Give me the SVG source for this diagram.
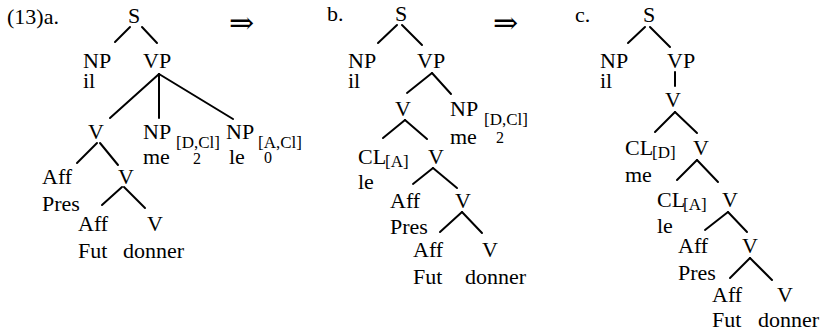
<svg xmlns="http://www.w3.org/2000/svg" width="820" height="334" viewBox="0 0 820 334">
<style>
text{font-family:"Liberation Serif","Times New Roman",serif;font-size:22px;fill:#000}
.sub{font-size:17px}
.dig{font-size:16px}
.arr{font-family:"DejaVu Serif","DejaVu Sans",serif;font-size:30px}
line{stroke:#000;stroke-width:2;stroke-linecap:round}
</style>
<rect width="820" height="334" fill="#fff"/>
<g id="connectors">
<line x1="115" y1="42" x2="130" y2="27"/><line x1="142" y1="27" x2="157" y2="43"/>
<line x1="159" y1="74" x2="110" y2="118"/><line x1="159" y1="74" x2="159" y2="118"/><line x1="159" y1="74" x2="233" y2="119"/>
<line x1="97" y1="143" x2="77" y2="163"/><line x1="100" y1="143" x2="118" y2="165"/>
<line x1="122" y1="187" x2="102" y2="205"/><line x1="124" y1="187" x2="145" y2="208"/>
<line x1="378" y1="43" x2="397" y2="25"/><line x1="402" y1="25" x2="422" y2="45"/>
<line x1="432" y1="73" x2="407" y2="93"/><line x1="432" y1="73" x2="451" y2="94"/>
<line x1="405" y1="120" x2="383" y2="138"/><line x1="405" y1="120" x2="427" y2="139"/>
<line x1="433" y1="168" x2="413" y2="184"/><line x1="433" y1="168" x2="457" y2="188"/>
<line x1="462" y1="212" x2="440" y2="232"/><line x1="462" y1="212" x2="482" y2="233"/>
<line x1="628" y1="43" x2="645" y2="27"/><line x1="650" y1="27" x2="670" y2="47"/>
<line x1="675" y1="72" x2="675" y2="86"/>
<line x1="675" y1="112" x2="655" y2="132"/><line x1="675" y1="112" x2="697" y2="133"/>
<line x1="697" y1="160" x2="677" y2="180"/><line x1="697" y1="160" x2="718" y2="182"/>
<line x1="728" y1="212" x2="705" y2="230"/><line x1="728" y1="212" x2="747" y2="232"/>
<line x1="750" y1="258" x2="730" y2="278"/><line x1="750" y1="258" x2="772" y2="280"/>
</g>
<g id="labels">
<text x="7" y="24">(13)a.</text>
<text class="arr" x="229" y="33">⇒</text>
<text x="327" y="21">b.</text>
<text class="arr" x="493" y="33">⇒</text>
<text x="575" y="22">c.</text>
</g>
<g id="a-S"><text x="128" y="23">S</text></g>
<g id="a-NP"><text x="83" y="68">NP</text><text x="83" y="88">il</text></g>
<g id="a-VP"><text x="143" y="68">VP</text></g>
<g id="a-V1"><text x="88" y="139">V</text></g>
<g id="a-NPD"><text x="143" y="139">NP</text><text class="sub" x="176" y="148">[D,Cl]</text><text x="143" y="164">me</text><text class="dig" x="193" y="164">2</text></g>
<g id="a-NPA"><text x="226" y="139">NP</text><text class="sub" x="258" y="148">[A,Cl]</text><text x="229" y="164">le</text><text class="dig" x="264" y="163">0</text></g>
<g id="a-Aff1"><text x="42" y="184">Aff</text><text x="42" y="211">Pres</text></g>
<g id="a-V2"><text x="118" y="184">V</text></g>
<g id="a-Aff2"><text x="78" y="231">Aff</text><text x="78" y="258">Fut</text></g>
<g id="a-V3"><text x="147" y="231">V</text><text x="123" y="258">donner</text></g>
<g id="b-S"><text x="395" y="21">S</text></g>
<g id="b-NP"><text x="348" y="68">NP</text><text x="348" y="88">il</text></g>
<g id="b-VP"><text x="417" y="68">VP</text></g>
<g id="b-V1"><text x="395" y="116">V</text></g>
<g id="b-NPD"><text x="450" y="116">NP</text><text class="sub" x="484" y="125">[D,Cl]</text><text x="450" y="144">me</text><text class="dig" x="496" y="143">2</text></g>
<g id="b-CLA"><text x="358" y="164">CL</text><text class="sub" x="385" y="167">[A]</text><text x="358" y="189">le</text></g>
<g id="b-V2"><text x="428" y="164">V</text></g>
<g id="b-Aff1"><text x="390" y="208">Aff</text><text x="390" y="234">Pres</text></g>
<g id="b-V3"><text x="455" y="208">V</text></g>
<g id="b-Aff2"><text x="413" y="257">Aff</text><text x="413" y="284">Fut</text></g>
<g id="b-V4"><text x="482" y="257">V</text><text x="465" y="284">donner</text></g>
<g id="c-S"><text x="643" y="22">S</text></g>
<g id="c-NP"><text x="600" y="68">NP</text><text x="600" y="88">il</text></g>
<g id="c-VP"><text x="667" y="68">VP</text></g>
<g id="c-V1"><text x="665" y="107">V</text></g>
<g id="c-CLD"><text x="625" y="155">CL</text><text class="sub" x="652" y="158">[D]</text><text x="625" y="182">me</text></g>
<g id="c-V2"><text x="693" y="155">V</text></g>
<g id="c-CLA"><text x="657" y="207">CL</text><text class="sub" x="683" y="210">[A]</text><text x="657" y="233">le</text></g>
<g id="c-V3"><text x="722" y="207">V</text></g>
<g id="c-Aff1"><text x="678" y="253">Aff</text><text x="678" y="280">Pres</text></g>
<g id="c-V4"><text x="742" y="253">V</text></g>
<g id="c-Aff2"><text x="712" y="302">Aff</text><text x="712" y="327">Fut</text></g>
<g id="c-V5"><text x="777" y="302">V</text><text x="758" y="327">donner</text></g>
</svg>
